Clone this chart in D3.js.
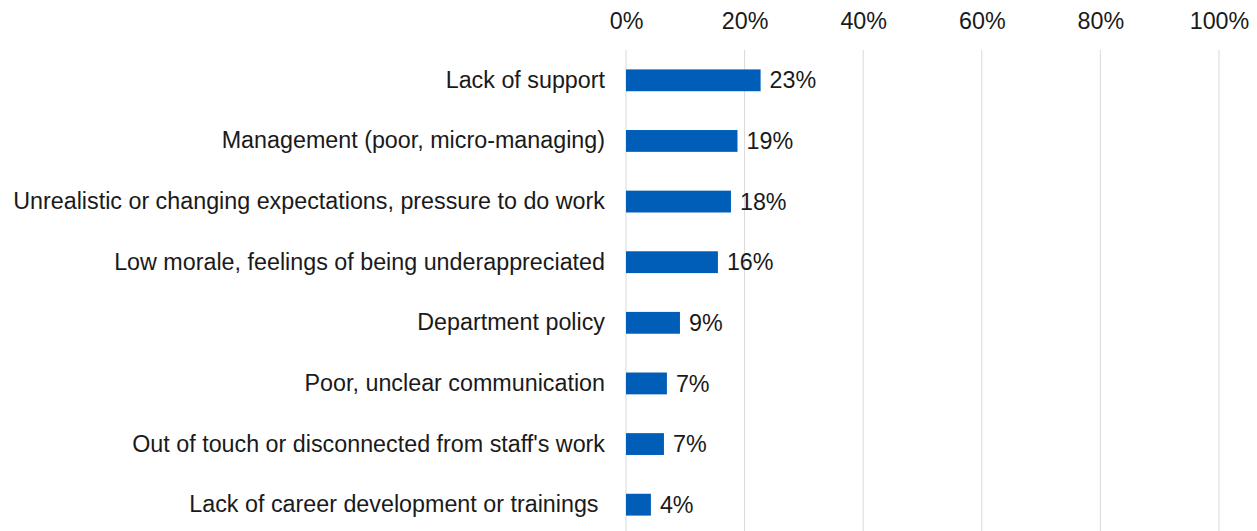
<!DOCTYPE html>
<html><head><meta charset="utf-8">
<script src="https://cdn.jsdelivr.net/npm/d3@7"></script>
<style>body{margin:0;background:#fff}svg{display:block;font-family:"Liberation Sans",Arial,sans-serif}</style>
</head><body>
<script>
const categories = ["Lack of support","Management (poor, micro-managing)","Unrealistic or changing expectations, pressure to do work","Low morale, feelings of being underappreciated","Department policy","Poor, unclear communication","Out of touch or disconnected from staff's work","Lack of career development or trainings\u00a0"];
const values = [22.7, 18.8, 17.7, 15.5, 9.1, 6.9, 6.4, 4.2];
const valueLabels = ["23%","19%","18%","16%","9%","7%","7%","4%"];
const ticks = [0,20,40,60,80,100];

const W=1257,H=531,FS=23.3;
const svg=d3.select("body").append("svg").attr("width",W).attr("height",H);
const x=d3.scaleLinear().domain([0,100]).range([626,1219]);
const y=d3.scaleBand().domain(categories).range([50,535]).paddingInner(0.64).paddingOuter(0.32);

svg.append("g").selectAll("line").data(ticks).join("line")
 .attr("x1",d=>x(d)).attr("x2",d=>x(d)).attr("y1",50).attr("y2",H)
 .attr("stroke","#d9d9d9").attr("stroke-width",1);

const xAxis=d3.axisTop(x).tickValues(ticks).tickFormat(d=>d+"%").tickSize(0).tickPadding(0);
const ax=svg.append("g").attr("transform","translate(0,29)").call(xAxis);
ax.select(".domain").remove();
ax.selectAll("text").attr("font-size",FS).attr("fill","#1a1a1a").attr("font-family","Liberation Sans, Arial, sans-serif");

const yAxis=d3.axisLeft(y).tickSize(0).tickPadding(0);
const ay=svg.append("g").attr("transform","translate(605,0)").call(yAxis);
ay.select(".domain").remove();
ay.selectAll("text").attr("font-size",FS).attr("fill","#1a1a1a").attr("font-family","Liberation Sans, Arial, sans-serif");

svg.selectAll("rect.bar").data(values).join("rect").attr("class","bar")
 .attr("x",x(0)).attr("y",(d,i)=>y(categories[i]))
 .attr("width",d=>x(d)-x(0)).attr("height",y.bandwidth()).attr("fill","#005EB8");

svg.selectAll("text.val").data(values).join("text").attr("class","val")
 .attr("x",d=>x(d)+9).attr("y",(d,i)=>y(categories[i])+y.bandwidth()/2)
 .attr("dy","0.35em").attr("font-size",FS).attr("fill","#1a1a1a")
 .text((d,i)=>valueLabels[i]);
</script>
</body></html>
